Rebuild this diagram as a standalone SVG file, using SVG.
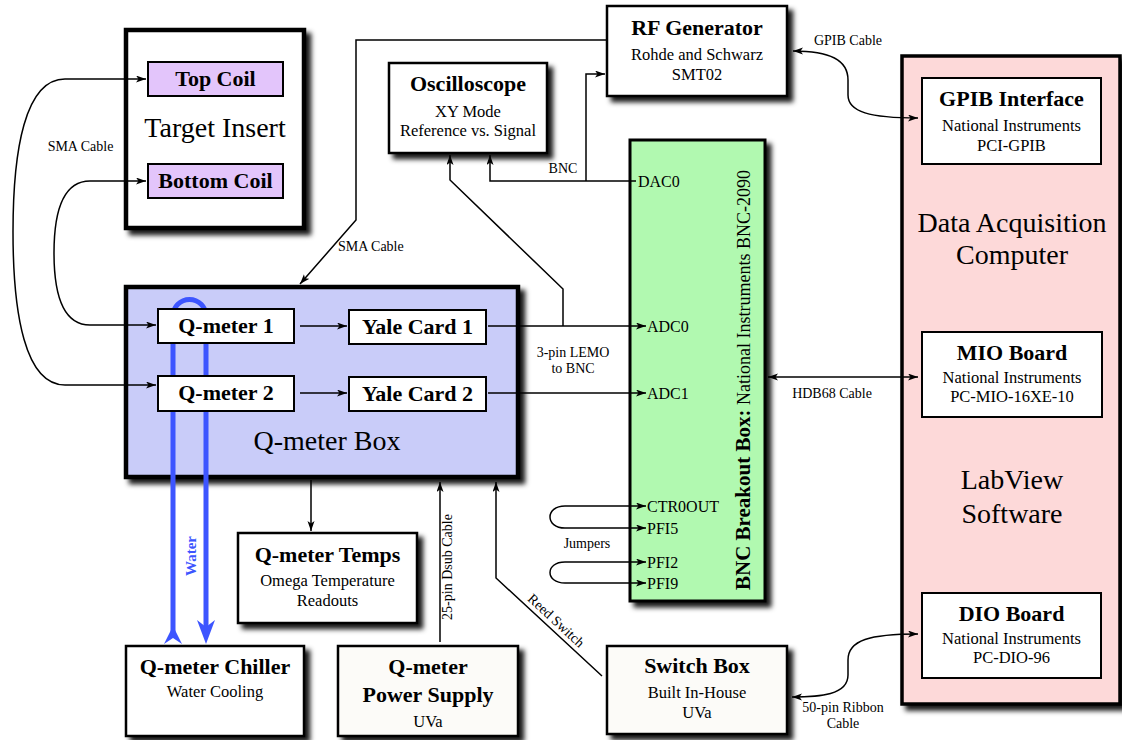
<svg xmlns="http://www.w3.org/2000/svg" width="1122" height="740" viewBox="0 0 1122 740">
<defs>
<filter id="sh" x="-10%" y="-10%" width="130%" height="130%">
<feDropShadow dx="5" dy="5" stdDeviation="2.5" flood-color="#000" flood-opacity="0.9"/>
</filter>
<marker id="ah" markerUnits="userSpaceOnUse" markerWidth="12" markerHeight="9" refX="10" refY="3.5" orient="auto-start-reverse" viewBox="0 0 12 9">
<path d="M0,0 L10,3.5 L0,7 L2.5,3.5 z" fill="#000"/>
</marker>
<style>
text{font-family:"Liberation Serif","Times New Roman",serif;fill:#000}
.t{font-size:22px;font-weight:bold;text-anchor:middle}
.s{font-size:16.5px;text-anchor:middle}
.big{font-size:28px;text-anchor:middle}
.lb{font-size:14px}
.pt{font-size:16px}
.box{fill:#fff;stroke:#000;stroke-width:2.5}
.inner{fill:#fff;stroke:#000;stroke-width:2}
.c{fill:none;stroke:#000;stroke-width:1.5}
.ca{fill:none;stroke:#000;stroke-width:1.5;marker-end:url(#ah)}
.cb{fill:none;stroke:#000;stroke-width:1.5;marker-start:url(#ah);marker-end:url(#ah)}
</style>
</defs>
<rect width="1122" height="740" fill="#fff"/>

<g id="target-insert">
<rect x="126" y="30" width="178" height="198" fill="#fff" stroke="#000" stroke-width="4.5" filter="url(#sh)"/>
<text class="big" x="215" y="137">Target Insert</text>
</g>

<g id="qmeter-box">
<rect x="126" y="287" width="392" height="190" fill="#c9ccf9" stroke="#000" stroke-width="4.5" filter="url(#sh)"/>
<text class="big" x="327" y="450">Q-meter Box</text>
</g>

<g id="bnc-breakout">
<rect x="630" y="140" width="135" height="461" fill="#b1f9b0" stroke="#000" stroke-width="3" filter="url(#sh)"/>
<text transform="translate(750,590) rotate(-90)"><tspan font-size="21" font-weight="bold">BNC Breakout Box:</tspan><tspan font-size="18"> National Instruments BNC-2090</tspan></text>
<text class="pt" x="638" y="187">DAC0</text>
<text class="pt" x="647" y="332">ADC0</text>
<text class="pt" x="647" y="399">ADC1</text>
<text class="pt" x="647" y="512">CTR0OUT</text>
<text class="pt" x="647" y="534">PFI5</text>
<text class="pt" x="647" y="568">PFI2</text>
<text class="pt" x="647" y="589">PFI9</text>
</g>

<g id="daq-computer">
<rect x="902" y="56" width="218" height="648" fill="#fdd9d9" stroke="#000" stroke-width="3.5" filter="url(#sh)"/>
<text class="big" x="1012" y="232">Data Acquisition</text>
<text class="big" x="1012" y="264">Computer</text>
<text class="big" x="1012" y="489">LabView</text>
<text class="big" x="1012" y="523">Software</text>
</g>

<g id="oscilloscope">
<rect class="box" x="389" y="63" width="158" height="90" filter="url(#sh)"/>
<text class="t" x="468" y="91">Oscilloscope</text>
<text class="s" x="468" y="117">XY Mode</text>
<text class="s" x="468" y="136">Reference vs. Signal</text>
</g>

<g id="rf-generator">
<rect class="box" x="607" y="6" width="180" height="90" filter="url(#sh)"/>
<text class="t" x="697" y="35">RF Generator</text>
<text class="s" x="697" y="60">Rohde and Schwarz</text>
<text class="s" x="697" y="80">SMT02</text>
</g>

<g id="qmeter-temps">
<rect class="box" x="238" y="533" width="179" height="90" filter="url(#sh)"/>
<text class="t" x="327.5" y="562">Q-meter Temps</text>
<text class="s" x="327.5" y="586">Omega Temperature</text>
<text class="s" x="327.5" y="606">Readouts</text>
</g>

<g id="qmeter-chiller">
<rect class="box" x="126" y="646" width="178" height="90" filter="url(#sh)"/>
<text class="t" x="215" y="674">Q-meter Chiller</text>
<text class="s" x="215" y="697">Water Cooling</text>
</g>

<g id="power-supply">
<rect x="338" y="646" width="180" height="90" fill="#fcfbf8" stroke="#000" stroke-width="2.5" filter="url(#sh)"/>
<text class="t" x="428" y="674">Q-meter</text>
<text class="t" x="428" y="702">Power Supply</text>
<text class="s" x="428" y="727">UVa</text>
</g>

<g id="switch-box">
<rect x="607" y="646" width="180" height="88" fill="#fcfbf8" stroke="#000" stroke-width="2.5" filter="url(#sh)"/>
<text class="t" x="697" y="673">Switch Box</text>
<text class="s" x="697" y="698">Built In-House</text>
<text class="s" x="697" y="718">UVa</text>
</g>

<g id="connectors">
<path class="cb" d="M146,79 L65,79 C25,79 13,150 13,232 C13,314 25,385 65,385 L156,385"/>
<path class="cb" d="M146,181 L90,181 C62,181 54,215 54,253 C54,291 62,325 90,325 L156,325"/>
<text class="lb" x="80.5" y="151" text-anchor="middle">SMA Cable</text>
<path class="ca" d="M300,326 L347,326"/>
<path class="ca" d="M300,393 L347,393"/>
<path class="ca" d="M488,326 L646,326"/>
<path class="ca" d="M563,326 L563,289 L450,180 L450,155"/>
<path class="ca" d="M488,393 L646,393"/>
<text class="lb" x="573" y="357" text-anchor="middle">3-pin LEMO</text>
<text class="lb" x="573" y="373" text-anchor="middle">to BNC</text>
<path class="ca" d="M636,181 L490,181 L490,155"/>
<path class="ca" d="M586,181 L586,74 L605,74"/>
<text class="lb" x="563" y="173" text-anchor="middle">BNC</text>
<path class="ca" d="M607,40 L356,40 L356,220 L300,284"/>
<text class="lb" x="338" y="251">SMA Cable</text>
<path class="ca" d="M311,480 L311,531"/>
<path class="ca" d="M440,642 L440,482"/>
<text class="lb" transform="translate(452,567) rotate(-90)" text-anchor="middle">25-pin Dsub Cable</text>
<path class="ca" d="M602,676 L496,578 L496,482"/>
<text class="lb" transform="translate(553,624) rotate(42.75)" text-anchor="middle">Reed Switch</text>
<path class="cb" d="M646,506 L565,506 C545,506 545,528 565,528 L646,528"/>
<path class="cb" d="M646,562 L565,562 C545,562 545,583 565,583 L646,583"/>
<text class="lb" x="587" y="548" text-anchor="middle">Jumpers</text>
<path class="cb" d="M768,377 L918,377"/>
<text class="lb" x="832" y="398" text-anchor="middle">HDB68 Cable</text>
<path class="cb" d="M793,51 C830,51 848,60 848,80 L848,95 C848,112 870,118 918,118"/>
<text class="lb" x="848" y="45" text-anchor="middle">GPIB Cable</text>
<path class="cb" d="M918,634 C870,634 848,640 848,660 L848,675 C848,695 820,697 792,697"/>
<text class="lb" x="843" y="712" text-anchor="middle">50-pin Ribbon</text>
<text class="lb" x="843" y="728" text-anchor="middle">Cable</text>
<path d="M173,638 L173,316 A16.5,16.5 0 0 1 206,316 L206,630" fill="none" stroke="#3d55ff" stroke-width="5"/>
<path d="M173,626 L182,644 L173,638 L164,644 z" fill="#3d55ff"/>
<path d="M206,644 L197,620 L206,627 L215,620 z" fill="#3d55ff"/>
<text transform="translate(196,556) rotate(-90)" text-anchor="middle" font-size="15" font-weight="bold" style="fill:#3d55ff">Water</text>
</g>

<g id="top-coil">
<rect x="148" y="62" width="135" height="34" fill="#e3c5fb" stroke="#000" stroke-width="2"/>
<text class="t" x="215.5" y="86">Top Coil</text>
</g>
<g id="bottom-coil">
<rect x="148" y="164" width="135" height="34" fill="#e3c5fb" stroke="#000" stroke-width="2"/>
<text class="t" x="215.5" y="188">Bottom Coil</text>
</g>
<g id="qmeter-1">
<rect class="inner" x="158" y="309" width="136" height="34"/>
<text class="t" x="226" y="333">Q-meter 1</text>
</g>
<g id="qmeter-2">
<rect class="inner" x="158" y="376" width="136" height="35"/>
<text class="t" x="226" y="400">Q-meter 2</text>
</g>
<g id="yale-card-1">
<rect class="inner" x="349" y="310" width="137" height="34"/>
<text class="t" x="417.5" y="334">Yale Card 1</text>
</g>
<g id="yale-card-2">
<rect class="inner" x="349" y="377" width="137" height="34"/>
<text class="t" x="417.5" y="401">Yale Card 2</text>
</g>
<g id="gpib-interface">
<rect class="inner" x="922" y="78" width="179" height="86"/>
<text class="t" x="1011.5" y="106">GPIB Interface</text>
<text class="s" x="1011.5" y="131">National Instruments</text>
<text class="s" x="1011.5" y="151">PCI-GPIB</text>
</g>
<g id="mio-board">
<rect class="inner" x="922" y="332" width="180" height="85"/>
<text class="t" x="1012" y="360">MIO Board</text>
<text class="s" x="1012" y="383">National Instruments</text>
<text class="s" x="1012" y="402">PC-MIO-16XE-10</text>
</g>
<g id="dio-board">
<rect class="inner" x="922" y="593" width="179" height="85"/>
<text class="t" x="1011.5" y="621">DIO Board</text>
<text class="s" x="1011.5" y="644">National Instruments</text>
<text class="s" x="1011.5" y="663">PC-DIO-96</text>
</g>
</svg>
